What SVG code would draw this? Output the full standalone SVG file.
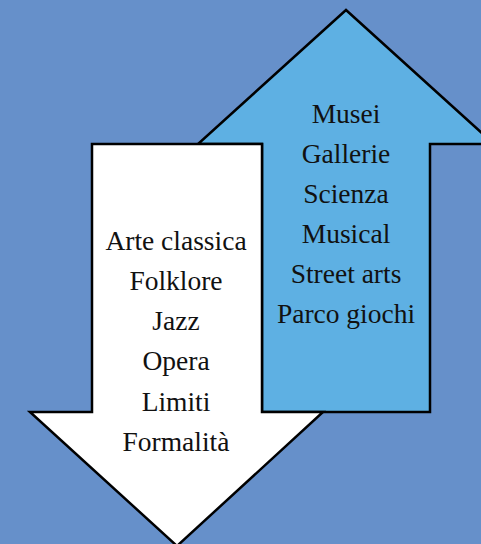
<svg xmlns="http://www.w3.org/2000/svg" width="481" height="544" viewBox="0 0 481 544">
<style>
.arrow{stroke:#000;stroke-width:2.5;stroke-linejoin:miter}
.t{font-family:"Liberation Serif","DejaVu Serif",serif;font-size:27.5px;fill:#111;text-anchor:middle}
</style>
<rect width="481" height="544" fill="#6690CA"/>
<g id="up-arrow">
<polygon class="arrow" fill="#5EB0E3" points="346,10 494,144 430,144 430,412 262,412 262,144 198,144"/>
<text class="t" x="346" y="123">Musei</text>
<text class="t" x="346" y="163">Gallerie</text>
<text class="t" x="346" y="203">Scienza</text>
<text class="t" x="346" y="243">Musical</text>
<text class="t" x="346" y="283">Street arts</text>
<text class="t" x="346" y="323">Parco giochi</text>
</g>
<g id="down-arrow">
<polygon class="arrow" fill="#FFFFFF" points="92,144 262,144 262,412 323,412 177,546 30,412 92,412"/>
<text class="t" x="176" y="250">Arte classica</text>
<text class="t" x="176" y="290">Folklore</text>
<text class="t" x="176" y="330">Jazz</text>
<text class="t" x="176" y="370">Opera</text>
<text class="t" x="176" y="411">Limiti</text>
<text class="t" x="176" y="451">Formalità</text>
</g>
<g id="connectors"></g>
</svg>
